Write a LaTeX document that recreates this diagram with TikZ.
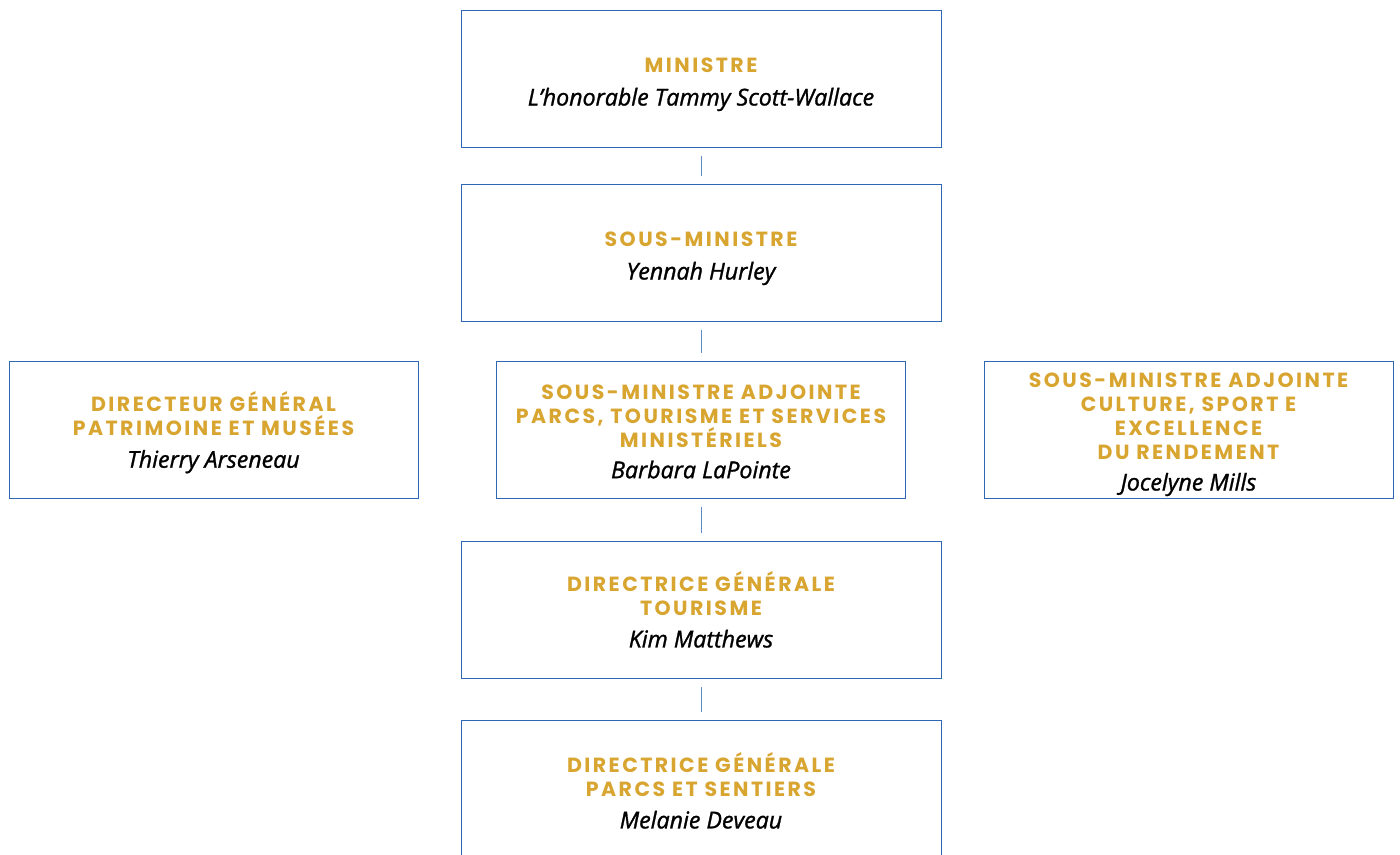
\documentclass[tikz,border=0pt]{standalone}
\usepackage{fontspec}
\newfontfamily\titlefont[LetterSpace=12]{Poppins}
\newfontfamily\namefont[ItalicFeatures={FakeBold=1.2}]{Open Sans}
\definecolor{gold}{RGB}{216,165,48}
\definecolor{boxblue}{RGB}{46,104,178}
\definecolor{linkblue}{RGB}{96,140,198}
\newcommand{\ttl}[1]{{\titlefont\bfseries\color{gold}#1}}
\newcommand{\who}[1]{{\namefont\itshape\fontsize{23.2}{24}\selectfont #1}}

\tikzset{
  post/.style={draw=boxblue,line width=1pt,fill=white,minimum height=137pt,inner sep=0pt},
  wide/.style={post,minimum width=480pt},
  narrow/.style={post,minimum width=409pt},
  txt/.style={inner sep=0pt,align=center,font={\fontsize{20.5}{24}\selectfont}},
  link/.style={draw=linkblue,line width=1pt,shorten <=8pt,shorten >=8pt}
}

\begin{document}
\begin{tikzpicture}[x=1pt,y=-1pt]
            \useasboundingbox (0,0) rectangle (1400,854);
            \clip (0,0) rectangle (1400,854);

            % boxes
            \node[wide] (min) at (701,78.5) {};
            \node[wide] (smin) at (701,252.5) {};
            \node[narrow] (dgpat) at (213.5,429.5) {};
            \node[narrow] (smaparcs) at (701,429.5) {};
            \node[narrow] (smaculture) at (1188.5,429.5) {};
            \node[wide] (dgtour) at (701,609.5) {};
            \node[wide] (dgparcs) at (701,788.5) {};

            % texts
            \node[txt] (minlbl) at ([yshift=-6pt]min.center) {\ttl{MINISTRE}\\[9pt]\who{L’honorable Tammy Scott-Wallace}};
            \node[txt] (sminlbl) at ([yshift=-6pt]smin.center) {\ttl{SOUS-MINISTRE}\\[9pt]\who{Yennah Hurley}};
            \node[txt] (dgpatlbl) at ([yshift=-3pt]dgpat.center) {\ttl{DIRECTEUR GÉNÉRAL}\\\ttl{PATRIMOINE ET MUSÉES}\\[8pt]\who{Thierry Arseneau}};
            \node[txt] (smaparcslbl) at ([yshift=-2pt]smaparcs.center) {\ttl{SOUS-MINISTRE ADJOINTE}\\\ttl{PARCS, TOURISME ET SERVICES}\\\ttl{MINISTÉRIELS}\\[7pt]\who{Barbara LaPointe}};
            \node[txt] (smaculturelbl) at ([yshift=-5pt]smaculture.center) {\ttl{SOUS-MINISTRE ADJOINTE}\\\ttl{CULTURE, SPORT E}\\\ttl{EXCELLENCE}\\\ttl{DU RENDEMENT}\\[7pt]\who{Jocelyne Mills}};
            \node[txt] (dgtourlbl) at ([yshift=0pt]dgtour.center) {\ttl{DIRECTRICE GÉNÉRALE}\\\ttl{TOURISME}\\[8pt]\who{Kim Matthews}};
            \node[txt] (dgparcslbl) at ([yshift=-2pt]dgparcs.center) {\ttl{DIRECTRICE GÉNÉRALE}\\\ttl{PARCS ET SENTIERS}\\[8pt]\who{Melanie Deveau}};

            \draw[link] (min) -- (smin);
            \draw[link] (smin) -- (smaparcs);
            \draw[link] (smaparcs) -- (dgtour);
            \draw[link] (dgtour) -- (dgparcs);
        \end{tikzpicture}
\end{document}
